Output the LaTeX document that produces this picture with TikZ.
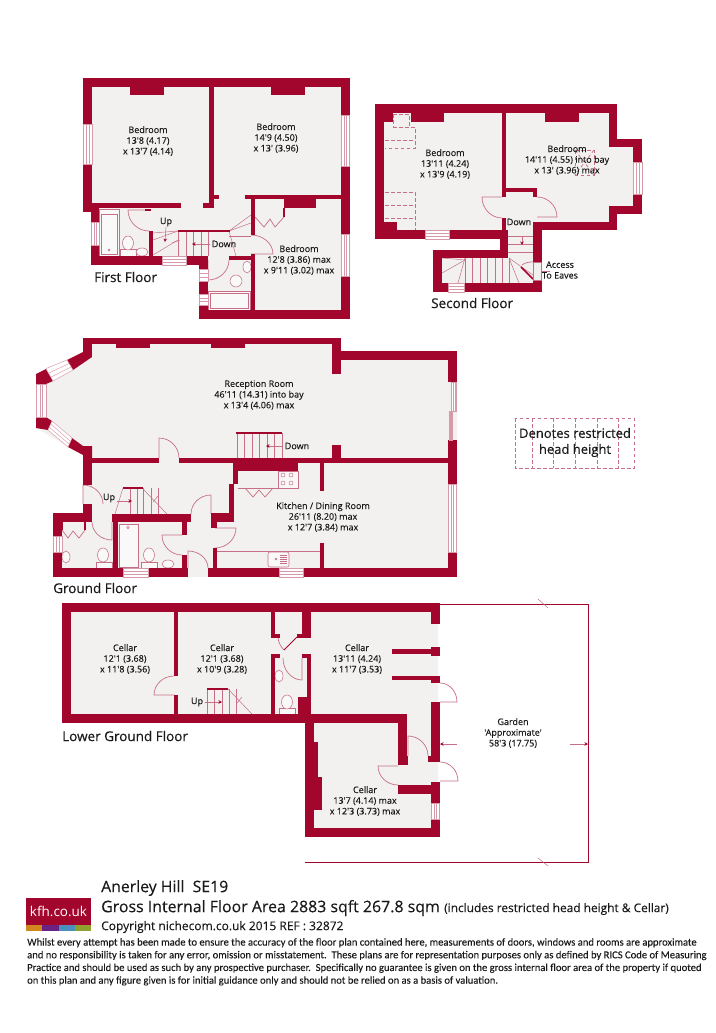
\documentclass[tikz,border=0pt]{standalone}
\usepackage{fontspec}
\setmainfont{Open Sans}
\newfontfamily\medfont[FakeBold=0.3]{Open Sans}
\newfontfamily\labfont[FakeBold=0.12]{Open Sans}
\newfontfamily\condfont[FakeBold=0.1]{Carlito}
\usetikzlibrary{calc,arrows.meta}
\definecolor{wallred}{HTML}{A3062D}
\definecolor{floorgrey}{HTML}{F2F1F0}
\definecolor{thinred}{HTML}{C66F86}
\definecolor{inktext}{HTML}{1A1A1A}
\tikzset{
  wallfill/.style={fill=wallred},
  floorfill/.style={fill=floorgrey},
  thinline/.style={draw=thinred,line width=0.5pt},
  winline/.style={draw=thinred!70!white,line width=0.45pt},
  redline/.style={draw=wallred,line width=1.5pt},
  doorline/.style={draw=thinred,line width=0.7pt},
  dashline/.style={draw=thinred,line width=0.7pt,dash pattern=on 3.5pt off 2.5pt},
  arrowline/.style={draw=thinred,line width=0.55pt,-{Stealth[length=3.5pt,width=3.5pt,color=wallred]}},
  roomlabel/.style={font=\labfont\fontsize{9}{10.7}\selectfont,text=inktext,align=center,inner sep=0pt},
  floortitle/.style={font=\medfont\fontsize{13.5}{15}\selectfont,text=inktext,anchor=west,inner sep=0pt},
  fixture/.style={draw=thinred,line width=0.55pt,fill=floorgrey!40!white},
}
\newcommand\wl[4]{\fill[wallfill] (#1,#2) rectangle (#3,#4);}
\newcommand\winv[4]{\fill[white] (#1,#2) rectangle (#3,#4);
  \draw[winline] (#1,#2) rectangle (#3,#4);
  \draw[winline] ($(#1,#2)!0.35!(#3,#2)$) -- ($(#1,#4)!0.35!(#3,#4)$);
  \draw[winline] ($(#1,#2)!0.65!(#3,#2)$) -- ($(#1,#4)!0.65!(#3,#4)$);}
\newcommand\winh[4]{\fill[white] (#1,#2) rectangle (#3,#4);
  \draw[winline] (#1,#2) rectangle (#3,#4);
  \draw[winline] ($(#1,#2)!0.35!(#1,#4)$) -- ($(#3,#2)!0.35!(#3,#4)$);
  \draw[winline] ($(#1,#2)!0.65!(#1,#4)$) -- ($(#3,#2)!0.65!(#3,#4)$);}
% hinge, leaf end, closed position
\newcommand\dr[6]{\draw[doorline] (#1,#2) -- (#3,#4) .. controls ($(#3,#4)+0.552*(#5,#6)-0.552*(#1,#2)$) and ($(#5,#6)+0.552*(#3,#4)-0.552*(#1,#2)$) .. (#5,#6);}
\newcommand\toil[6]{\draw[fixture] (#1,#2) rectangle (#3,#4);\draw[fixture] (#5,#6) ellipse [x radius=5.5pt,y radius=7pt];}
\begin{document}
\begin{tikzpicture}[x=1pt,y=-1pt]
\useasboundingbox (0,0) rectangle (715,1033);
\fill[white] (0,0) rectangle (715,1033);

% ===== floors =====
\fill[floorfill] (83,78) -- (350,78) -- (350,319) -- (199,319) -- (199,265) -- (91,265) -- (91,212) -- (83,212) -- cycle;
\fill[floorfill] (375,104) -- (617,104) -- (617,139) -- (642,139) -- (642,214) -- (617,214) -- (617,230) -- (542,230) -- (542,292) -- (433,292) -- (433,250) -- (500,250) -- (500,239) -- (375,239) -- cycle;
\fill[floorfill] (83,338) -- (341,338) -- (341,351) -- (457,351) -- (457,577) -- (53,577) -- (53,513) -- (83,513) -- (83,455) -- (36,428) -- (36,374) -- (83,352) -- cycle;
\fill[floorfill] (62,603) -- (438,603) -- (438,837) -- (305,837) -- (305,723) -- (62,723) -- cycle;

% ===== FIRST FLOOR =====
% fixtures
\draw[fixture] (99,209) rectangle (119,256);
\draw[fixture] (101,214) rectangle (117,254);
\draw[fixture] (109,250) circle [radius=1pt];
\toil{120}{249}{136}{256}{128}{243}
\draw[fixture] (142,252) ellipse [x radius=6pt,y radius=4pt];
\draw[fixture] (208,291) rectangle (250,310);
\draw[fixture] (210,293) rectangle (248,308);
\draw[fixture] (236,281) ellipse [x radius=6pt,y radius=6pt];
\draw[fixture] (247,267) ellipse [x radius=4pt,y radius=6pt];
% stairs
\foreach \sx in {178,186,193,201,208} {\draw[thinline] (\sx,231) -- (\sx,256);}
\draw[thinline] (153,233) -- (178,231);
\draw[thinline] (153,240) -- (178,231);
\draw[thinline] (153,255) -- (178,240);
\draw[thinline] (229,231) -- (251,215);
\draw[thinline] (229,231) -- (251,223);
\draw[thinline] (229,231) -- (236,256);
\draw[thinline] (229,236) -- (251,236);
\draw[redline] (178,231) -- (230,231);
\draw[thinline] (172,243) -- (180,240);
\draw[arrowline] (166,227) -- (165,242);
\draw[arrowline] (210,244) -- (192,244);
% doors
\dr{149}{210}{128}{210}{149}{231}
\draw[redline] (145,210) -- (151,210);
\dr{208}{260}{208}{280}{229}{260}
\dr{251}{254}{273}{254}{251}{235}
\draw[doorline] (255,217) -- (264,227) -- (270,219) -- (275,227) -- (284,217);
\draw[redline] (284,208) -- (284,217);
% walls
\wl{83}{78}{350}{87}
\wl{83}{78}{92}{212}
\wl{341}{78}{350}{319}
\wl{209}{87}{214}{203}
\wl{130}{87}{164}{95}
\wl{271}{87}{305}{95}
\wl{83}{203}{181}{208}
\wl{203}{203}{214}{208}
\wl{214}{195}{219}{199}
\wl{91}{208}{99}{265}
\wl{91}{256}{208}{265}
\wl{199}{256}{208}{319}
\wl{199}{310}{350}{319}
\wl{245}{195}{350}{199}
\wl{284}{199}{316}{208}
\wl{251}{199}{255}{235}
\wl{251}{254}{255}{310}
\wl{229}{256}{255}{260}
\wl{149}{231}{153}{256}
\winv{83.5}{124}{92}{164}
\winv{91.5}{222}{99}{245}
\winh{162}{256.5}{186}{265}
\winh{199.5}{269}{208}{281}
\winh{199.5}{294}{208}{305}
\winv{341}{115}{349.5}{166}
\winv{341}{234}{349.5}{276}

% ===== SECOND FLOOR =====
\foreach \sy in {236,244,252} {\draw[thinline] (508,\sy) -- (533,\sy);}
\foreach \sx in {465,472,480,487,495,502,509} {\draw[thinline] (\sx,258) -- (\sx,283);}
\draw[thinline] (442,273) -- (465,260);
\draw[thinline] (442,258) -- (465,260);
\draw[thinline] (465,258) -- (458,283);
\draw[thinline] (509,258) -- (519,283);
\draw[thinline] (509,258) -- (533,275);
\draw[redline] (521,267) -- (533,279);
\draw[doorline] (522,265) .. controls (526,262) and (530,262) .. (533,262);
\draw[arrowline] (522,236) -- (522,245);
\draw[arrowline] (550,271) -- (533,271);
\dr{502}{197}{482}{197}{502}{218}
\dr{537}{217}{557}{217}{537}{197}
% walls
\wl{375}{104}{617}{113}
\wl{375}{104}{384}{239}
\wl{375}{230}{508}{239}
\wl{384}{113}{393}{122}
\wl{411}{113}{444}{122}
\wl{384}{222}{397}{230}
\wl{502}{113}{506}{197}
\wl{502}{218}{506}{239}
\wl{545}{113}{579}{122}
\wl{609}{104}{617}{147}
\wl{609}{139}{642}{147}
\wl{633}{139}{642}{162}
\wl{633}{194}{642}{214}
\wl{609}{206}{642}{214}
\wl{609}{206}{617}{230}
\wl{533}{222}{617}{230}
\wl{506}{188}{537}{192}
\wl{533}{192}{537}{197}
\wl{533}{222}{542}{262}
\wl{500}{230}{508}{258}
\wl{433}{250}{508}{258}
\wl{433}{250}{442}{292}
\wl{433}{283}{542}{292}
\wl{533}{280}{542}{292}
\winh{425}{230.5}{449}{239}
\winv{633.5}{162}{642}{194}
\winh{448}{283.5}{464}{292}
\draw[doorline,fill=floorgrey] (533,262) rectangle (541,280);
% restricted dashes
\draw[dashline] (393,127) -- (415,127) -- (415,148) -- (385,148);
\draw[dashline] (385,140) -- (415,140);
\draw[dashline] (393,114) -- (393,127);
\draw[dashline] (393,114) -- (409,114) -- (409,127);
\draw[dashline] (385,192) -- (415,192) -- (415,230);
\draw[dashline] (385,205) -- (415,205);
\draw[dashline] (385,218) -- (415,218);
\draw[dashline] (575,150) -- (594,150) -- (594,175) -- (575,175) -- cycle;
\draw[dashline] (575,150) -- (594,175);
\draw[dashline] (594,150) -- (575,175);

% ===== GROUND FLOOR =====
\draw[fixture] (119,524) rectangle (138,567);
\draw[fixture] (128,527.5) circle [radius=1.2pt];
\toil{96}{562}{112}{568}{103}{555}
\toil{141}{562}{157}{568}{149}{555}
\draw[fixture] (168,564) ellipse [x radius=6pt,y radius=4pt];
\draw[fixture] (66,557) ellipse [x radius=4pt,y radius=6pt];
\draw[doorline] (62,530) -- (68,538) -- (73,531) -- (79,538) -- (85,530);
\draw[redline] (85,522) -- (85,530);
\draw[redline] (62,522) -- (62,530);
% stairs
\foreach \sx in {130,137,143,151,158} {\draw[thinline] (\sx,488) -- (\sx,514);}
\draw[thinline] (123,488) -- (115,514);
\draw[thinline] (143,489) -- (167,514);
\draw[thinline] (153,502) -- (158,496);
\draw[redline] (123,488) -- (143,488);
\draw[arrowline] (117,501) -- (132,501);
\foreach \sx in {237,244,252,259,267,274,282} {\draw[thinline] (\sx,433) -- (\sx,458);}
\draw[redline] (236,433) -- (282,433);
\draw[arrowline] (283,446) -- (266,446);
% kitchen
\draw[thinline] (238,488) -- (298,488);
\draw[fixture] (278,471) rectangle (298,488);
\foreach \hx/\hy in {283/475,291/475,283/483,291/483} {\draw[thinline] (\hx,\hy) circle [radius=2pt];}
\draw[doorline] (245,488) -- (253,497) -- (259,490) -- (265,497) -- (273,488);
\draw[thinline] (217,551) -- (320,551);
\draw[fixture,rounded corners=2pt] (268,552) rectangle (289,567);
\foreach \hy in {555,557,559,561,563} {\draw[thinline] (280,\hy) -- (287,\hy);}
\draw[thinline] (276,559) circle [radius=1pt];
% doors
\dr{159}{458}{159}{438}{179}{458}
\dr{83}{504}{83}{485}{103}{504}
\dr{112}{522}{112}{540}{92}{522}
\dr{182}{535}{162}{535}{182}{555}
\dr{188}{568}{188}{551}{208}{568}
\dr{211}{514}{211}{495}{191}{514}
\dr{215}{528}{236}{528}{215}{548}
% walls
\wl{83}{338}{341}{344}
\wl{116}{344}{150}{348}
\wl{211}{344}{245}{348}
\wl{332}{338}{341}{374}
\wl{341}{351}{457}{360}
\wl{83}{338}{92}{357}
\fill[wallfill] (83,352) -- (67,360) -- (73,370) -- (92,357) -- cycle;
\fill[wallfill] (36,374) -- (46,369) -- (53,381) -- (46,384) -- (36,384) -- cycle;
\fill[wallfill] (36,417) -- (46,417) -- (52,421) -- (48,430) -- (36,428) -- cycle;
\fill[wallfill] (72,438) -- (83,446) -- (92,446) -- (92,463) -- (83,463) -- (83,455) -- (68,447) -- cycle;
\fill[white] (46,368.5) -- (67,360) -- (73,370) -- (53,381) -- cycle;
\draw[winline] (46,368.5) -- (67,360) -- (73,370) -- (53,381) -- cycle;
\draw[winline] (49,373) -- (69,363.5);
\draw[winline] (51,377) -- (71,367);
\fill[white] (52,421) -- (72,438) -- (68,447) -- (48,430) -- cycle;
\draw[winline] (52,421) -- (72,438) -- (68,447) -- (48,430) -- cycle;
\draw[winline] (51,424) -- (70,441);
\draw[winline] (49,427) -- (69,444);
\winv{36.5}{384}{46}{417}
\wl{83}{446}{92}{485}
\wl{83}{504}{92}{522}
\wl{53}{513}{92}{522}
\wl{53}{513}{62}{577}
\wl{53}{568}{188}{577}
\wl{208}{568}{457}{577}
\wl{92}{458}{159}{463}
\wl{179}{458}{448}{463}
\wl{233}{463}{298}{471}
\wl{233}{463}{238}{484}
\wl{229}{484}{234}{522}
\wl{211}{513}{233}{522}
\wl{211}{522}{217}{528}
\wl{213}{548}{217}{568}
\wl{112}{514}{191}{522}
\wl{113}{522}{118}{568}
\wl{182}{522}{187}{535}
\wl{182}{555}{187}{568}
\wl{332}{445}{341}{458}
\wl{320}{463}{324}{491}
\wl{320}{543}{324}{568}
\wl{448}{351}{457}{382}
\wl{448}{440}{457}{484}
\wl{448}{552}{457}{577}
\winv{451.5}{382}{456.5}{411}
\winv{449}{411}{452.5}{440}
\winv{448}{484}{456.5}{552}
\winh{123}{568.5}{148}{577}
\winh{279}{568.5}{303}{577}
\winv{53.5}{536}{62}{552}

% ===== LOWER GROUND FLOOR =====
% garden
\draw[draw=wallred,line width=1pt] (440,604) -- (588,604) -- (588,862) -- (305,862);
\draw[thinline] (538,599) -- (548,608);
\draw[thinline] (538,858) -- (548,866);
\draw[arrowline] (457,744) -- (440,744);
\draw[arrowline] (570,744) -- (588,744);
% fixtures
\toil{279}{708}{295}{714}{287}{702}
\draw[fixture] (279,676) ellipse [x radius=4pt,y radius=6pt];
% stairs
\foreach \sx in {207,214,222,229,236} {\draw[thinline] (\sx,689) -- (\sx,714);}
\draw[thinline] (228,689) -- (252,714);
\draw[thinline] (237,703) -- (242,697);
\draw[redline] (207,689) -- (228,689);
\draw[arrowline] (205,702) -- (222,702);
% doors
\dr{174}{695}{154}{695}{174}{676}
\dr{302}{658}{302}{680}{283}{658}
\draw[doorline] (284,650) .. controls (281,647) and (278,642) .. (278,637);
\draw[draw=wallred,line width=0.9pt] (297,637) -- (284,650);
\dr{440}{702}{457}{702}{440}{683}
\dr{408}{756}{408}{736}{428}{756}
\dr{440}{781}{458}{781}{440}{762}
\dr{398}{766}{378}{766}{398}{785}
% walls
\wl{62}{603}{440}{612}
\wl{62}{603}{71}{723}
\wl{62}{714}{311}{723}
\wl{174}{612}{178}{676}
\wl{174}{695}{178}{714}
\wl{271}{612}{275}{638}
\wl{271}{634}{280}{638}
\wl{271}{654}{275}{714}
\wl{271}{654}{280}{658}
\wl{302}{612}{311}{638}
\wl{297}{634}{311}{638}
\wl{302}{654}{311}{658}
\wl{307}{658}{311}{697}
\wl{298}{697}{311}{714}
\wl{431}{612}{440}{624}
\wl{392}{649}{431}{654}
\wl{431}{647}{440}{656}
\wl{392}{676}{431}{680}
\wl{431}{676}{440}{683}
\wl{431}{702}{440}{762}
\wl{305}{714}{407}{723}
\wl{398}{723}{407}{765}
\wl{398}{756}{408}{765}
\wl{428}{756}{440}{762}
\wl{305}{714}{314}{837}
\wl{314}{742}{318}{777}
\wl{314}{777}{322}{810}
\wl{398}{785}{431}{794}
\wl{431}{782}{440}{803}
\wl{431}{819}{440}{837}
\wl{305}{828}{440}{837}
\winv{431}{803}{439.5}{819}

% ===== LEGEND =====
\draw[dashline] (515,418) rectangle (634,468);
\foreach \lx in {532,553,575,597,618} {\draw[dashline] (\lx,418) -- (\lx,468);}

% ===== TEXTS =====
\node[roomlabel] (bed1) at (148,141) {Bedroom\\13'8 (4.17)\\x 13'7 (4.14)};
\node[roomlabel] (bed2) at (276,138) {Bedroom\\14'9 (4.50)\\x 13' (3.96)};
\node[roomlabel] (bed3) at (299,260) {Bedroom\\12'8 (3.86) max\\x 9'11 (3.02) max};
\node[roomlabel] (bed4) at (445,164) {Bedroom\\13'11 (4.24)\\x 13'9 (4.19)};
\node[roomlabel] (bed5) at (567,160) {Bedroom\\14'11 (4.55) into bay\\x 13' (3.96) max};
\node[roomlabel] (recep) at (259,395) {Reception Room\\46'11 (14.31) into bay\\x 13'4 (4.06) max};
\node[roomlabel] (kitch) at (323,517) {Kitchen / Dining Room\\26'11 (8.20) max\\x 12'7 (3.84) max};
\node[roomlabel] (cel1) at (125,659) {Cellar\\12'1 (3.68)\\x 11'8 (3.56)};
\node[roomlabel] (cel2) at (222,659) {Cellar\\12'1 (3.68)\\x 10'9 (3.28)};
\node[roomlabel] (cel3) at (357,659) {Cellar\\13'11 (4.24)\\x 11'7 (3.53)};
\node[roomlabel] (cel4) at (365,801) {Cellar\\13'7 (4.14) max\\x 12'3 (3.73) max};
\node[roomlabel] (gard) at (513,733) {Garden\\'Approximate'\\58'3 (17.75)};
\node[roomlabel] (up1) at (166,222) {Up};
\node[roomlabel] (down1) at (224,244) {Down};
\node[roomlabel] (down2) at (519,222) {Down};
\node[roomlabel] (eaves) at (560,270) {Access\\To Eaves};
\node[roomlabel] (down3) at (297,446) {Down};
\node[roomlabel] (up2) at (109,498) {Up};
\node[roomlabel] (up3) at (197,702) {Up};
\node[floortitle] (t1) at (94,277) {First Floor};
\node[floortitle] (t2) at (431,303) {Second Floor};
\node[floortitle] (t3) at (53,588) {Ground Floor};
\node[floortitle] (t4) at (62,736) {Lower Ground Floor};
\node[font=\medfont\fontsize{13}{16}\selectfont,text=inktext,align=center,inner sep=0pt] (legend) at (575,442.5) {Denotes restricted\\head height};
% logo
\fill[wallred] (26,898) rectangle (91,925);
\fill[fill={rgb,255:red,208;green,136;blue,30}] (26,925) rectangle (42,931);
\fill[fill={rgb,255:red,106;green,35;blue,130}] (42,925) rectangle (59,931);
\fill[fill={rgb,255:red,75;green,143;blue,191}] (59,925) rectangle (75,931);
\fill[fill={rgb,255:red,143;green,160;blue,46}] (75,925) rectangle (91,931);
\node[font=\fontsize{13.5}{14}\selectfont,text=white,inner sep=0pt] (kfh) at (58.5,911) {kfh.co.uk};
% header
\node[font=\medfont\fontsize{15.8}{17}\selectfont,text=inktext,anchor=west,inner sep=0pt] (h1) at (101,888) {Anerley Hill\ \ SE19};
\node[font=\medfont\fontsize{15.9}{17}\selectfont,text=inktext,anchor=west,inner sep=0pt] (h2) at (101,908) {Gross Internal Floor Area 2883 sqft 267.8 sqm};
\node[font=\labfont\fontsize{11.9}{13}\selectfont,text=inktext,anchor=west,inner sep=0pt] (h3) at (444,909) {(includes restricted head height \& Cellar)};
\node[font=\labfont\fontsize{12}{13}\selectfont,text=inktext,anchor=west,inner sep=0pt] (h4) at (101,927) {Copyright nichecom.co.uk 2015 REF : 32872};
% footer
\node[font=\condfont\fontsize{10.6}{12.7}\selectfont,text=inktext,anchor=north west,align=left,inner sep=0pt] (foot) at (27,938) {Whilst every attempt has been made to ensure the accuracy of the floor plan contained here, measurements of doors, windows and rooms are approximate\\
and no responsibility is taken for any error, omission or misstatement.\ \ These plans are for representation purposes only as defined by RICS Code of Measuring\\
Practice and should be used as such by any prospective purchaser.\ \ Specifically no guarantee is given on the gross internal floor area of the property if quoted\\
on this plan and any figure given is for initial guidance only and should not be relied on as a basis of valuation.};
\end{tikzpicture}
\end{document}
